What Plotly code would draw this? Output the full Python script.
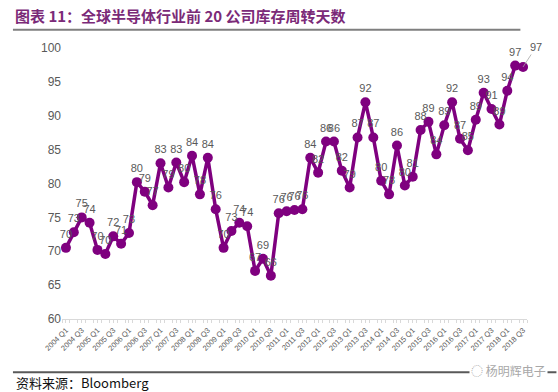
import plotly.graph_objects as go

quarters = [f"{y} Q{q}" for y in range(2004, 2019) for q in range(1, 5)][:59]
days = [70.5, 72.8, 75.0, 74.2, 70.2, 69.6, 72.2, 71.1, 72.7, 80.2,
        78.8, 76.8, 83.0, 79.4, 83.1, 80.2, 84.1, 78.4, 83.8, 76.2,
        70.5, 73.0, 74.2, 73.7, 67.1, 68.9, 66.4, 75.6, 75.9, 76.1,
        76.2, 83.8, 81.6, 86.2, 86.2, 81.9, 79.4, 86.8, 92.0, 86.8,
        80.4, 78.4, 85.6, 79.7, 81.0, 87.9, 89.1, 84.3, 88.6, 92.0,
        86.6, 84.9, 89.4, 93.4, 91.0, 88.7, 93.7, 97.4, 97.2]
yticks = [60, 65, 70, 75, 80, 85, 90, 95, 100]

title_text = "图表 11：全球半导体行业前 20 公司库存周转天数"
source_text = "资料来源：Bloomberg"
watermark_text = "杨明辉电子"

idx = list(range(len(days)))
labels = [f"{v:.0f}" for v in days]
labels_trace = labels[:-1] + [""]

W, H = 558, 392
ml, mr, mt, mb = 62, 31.4, 48.3, 72.7
pw = W - ml - mr
ph = H - mt - mb

def px(x):
    return (x - ml) / pw

def py(y):
    return (H - mb - y) / ph

fig = go.Figure()
fig.add_trace(go.Scatter(
    x=idx, y=days, mode="lines+markers+text",
    line=dict(color="#7F007F", width=3.5),
    marker=dict(color="#7F007F", size=10),
    text=labels_trace, textposition="top center",
    textfont=dict(family="Liberation Sans, Arial", size=11, color="#595959"),
    cliponaxis=False, hoverinfo="x+y", showlegend=False,
))

fig.add_annotation(
    x=idx[-1], y=days[-1], xref="x", yref="y", text=labels[-1],
    showarrow=True, arrowhead=0, arrowwidth=0.8, arrowcolor="#A6A6A6",
    ax=13, ay=-20,
    font=dict(family="Liberation Sans, Arial", size=11, color="#595959"),
)

fig.update_xaxes(
    range=[-0.5, len(days) - 0.5],
    tickmode="array", tickvals=idx[::2], ticktext=quarters[::2],
    tickangle=-45, tickfont=dict(family="Liberation Sans, Arial", size=7.5, color="#595959"),
    showline=True, linecolor="#D9D9D9", linewidth=1,
    ticks="outside", ticklen=3, tickcolor="#D9D9D9",
    minor=dict(dtick=1, tick0=0.5, ticks="outside", ticklen=3, tickcolor="#D9D9D9"),
    showgrid=False, zeroline=False,
)
fig.update_yaxes(
    range=[60, 100], tickmode="array", tickvals=yticks,
    tickfont=dict(family="Liberation Sans, Arial", size=12, color="#595959"),
    showgrid=False, zeroline=False, showline=False, ticks="",
)

shapes = [
    dict(type="line", xref="paper", yref="paper", x0=px(13), x1=px(520), y0=py(30), y1=py(30),
         line=dict(color="#7F7F7F", width=2)),
    dict(type="line", xref="paper", yref="paper", x0=px(13), x1=px(556), y0=py(372.5), y1=py(372.5),
         line=dict(color="#595959", width=2)),
]
fig.update_layout(shapes=shapes)

fig.add_annotation(
    xref="paper", yref="paper", x=px(13), y=py(16), xanchor="left", yanchor="middle",
    text=f"<b>{title_text}</b>", showarrow=False,
    font=dict(family="Noto Sans CJK SC", size=15, color="#7B2A78"),
)
fig.add_annotation(
    xref="paper", yref="paper", x=px(14), y=py(383), xanchor="left", yanchor="middle",
    text=source_text, showarrow=False,
    font=dict(family="Noto Sans CJK SC, Liberation Sans", size=13, color="#111111"),
)
fig.add_annotation(
    xref="paper", yref="paper", x=px(508), y=py(371), xanchor="center", yanchor="middle",
    text="◌ " + watermark_text, showarrow=False, bgcolor="white",
    font=dict(family="Noto Sans CJK SC", size=12, color="#A8A8A8"),
)

fig.update_layout(
    width=W, height=H,
    margin=dict(l=ml, r=mr, t=mt, b=mb, pad=0),
    paper_bgcolor="white", plot_bgcolor="white",
)

fig.write_html("out.html", config={"displayModeBar": False},
               post_script="document.body.style.margin='0px';document.body.style.overflow='hidden';")
